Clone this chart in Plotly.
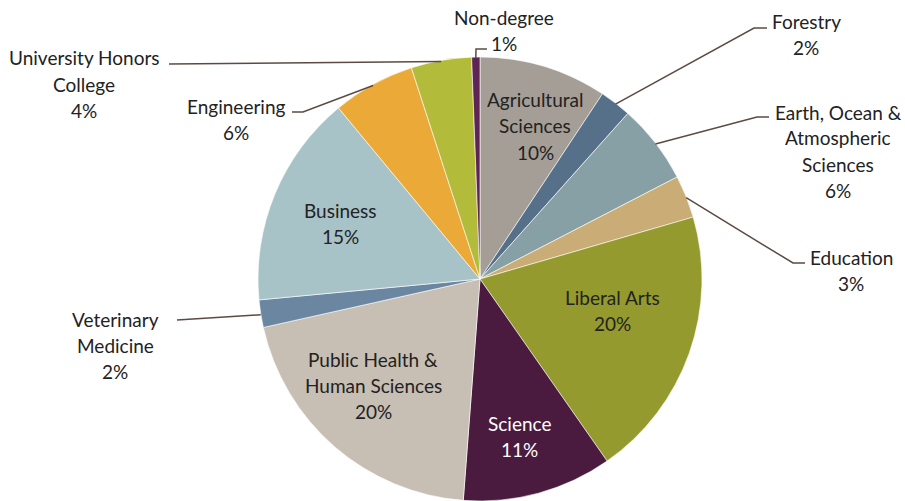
import math
import plotly.graph_objects as go

# ---- data ----
colleges = ["Agricultural Sciences", "Forestry", "Earth, Ocean & Atmospheric Sciences",
            "Education", "Liberal Arts", "Science", "Public Health & Human Sciences",
            "Veterinary Medicine", "Business", "Engineering", "University Honors College",
            "Non-degree"]
shares = [9.3, 2.3, 5.8, 3.1, 19.8, 10.9, 20.3, 2.0, 15.5, 6.0, 4.4, 0.6]
pct_labels = ["10%", "2%", "6%", "3%", "20%", "11%", "20%", "2%", "15%", "6%", "4%", "1%"]

# ---- styling / layout ----
W, H = 905, 501
colors = ["#A59E96", "#56708A", "#87A0A6", "#C9AC76", "#959A2E", "#4A1B3E",
          "#C7BEB4", "#6A86A1", "#A8C3C7", "#EBAA37", "#B3BB3A", "#5E2453"]
label_lines = [["Agricultural", "Sciences"], ["Forestry"], ["Earth, Ocean &", "Atmospheric", "Sciences"],
               ["Education"], ["Liberal Arts"], ["Science"], ["Public Health &", "Human Sciences"],
               ["Veterinary", "Medicine"], ["Business"], ["Engineering"], ["University Honors", "College"],
               ["Non-degree"]]
# label block: (center x px, first line y px), text color
label_pos = [(535, 100), (806, 21), (838, 112), (851, 257), (612, 297), (519, 423),
             (373, 359), (115, 319), (340, 210), (236, 106), (84, 58), (504, 17)]
label_col = ["#222222"] * 12
label_col[5] = "#FFFFFF"
# leader lines: (elbow px, end px) for outside labels
leaders = {1: ((754, 28), (767, 28)), 2: ((757, 117), (769, 117)), 3: ((793, 263), (805, 263)),
           7: ((177, 320), (177, 320)), 9: ((303, 112), (292, 112)), 10: ((169, 64), (169, 64)),
           11: ((476, 49), (487, 49))}
CX, CY, R = 480.0, 280.0, 222.0
LINE_H = 26
FONT = "Lato"
FS = 19

fig = go.Figure(go.Pie(
    labels=colleges, values=shares, sort=False, direction="clockwise", rotation=0,
    marker=dict(colors=colors, line=dict(color="white", width=0.6)),
    textinfo="none", hoverinfo="label+percent", showlegend=False,
    domain=dict(x=[(CX - R) / W, (CX + R) / W], y=[0, 2 * R / H]),
))

def px(x, y):
    return x / W, 1 - y / H

annotations = []
for i, lines in enumerate(label_lines):
    x0, y0 = label_pos[i]
    for k, t in enumerate(lines + [pct_labels[i]]):
        ax, ay = px(x0, y0 + k * LINE_H)
        annotations.append(dict(x=ax, y=ay, xref="paper", yref="paper", text=t,
                                showarrow=False, xanchor="center", yanchor="middle",
                                font=dict(family=FONT, size=FS, color=label_col[i])))

shapes = []
total = sum(shares)
cum = 0.0
mids = []
for v in shares:
    mids.append((cum + v / 2) / total * 360)
    cum += v
for i, (elbow, end) in leaders.items():
    a = math.radians(mids[i])
    sx, sy = CX + R * math.sin(a), CY - R * math.cos(a)
    p = [px(sx, sy), px(*elbow), px(*end)]
    path = "M {} {} L {} {} L {} {}".format(p[0][0], p[0][1], p[1][0], p[1][1], p[2][0], p[2][1])
    shapes.append(dict(type="path", path=path, xref="paper", yref="paper",
                       line=dict(color="#5B4B43", width=1.5)))

fig.update_layout(width=W, height=H, margin=dict(l=0, r=0, t=0, b=0),
                  paper_bgcolor="white", plot_bgcolor="white",
                  annotations=annotations, shapes=shapes)
fig.write_html("out.html", config={"displayModeBar": False},
               post_script="document.body.style.margin='0';document.body.style.padding='0';")
